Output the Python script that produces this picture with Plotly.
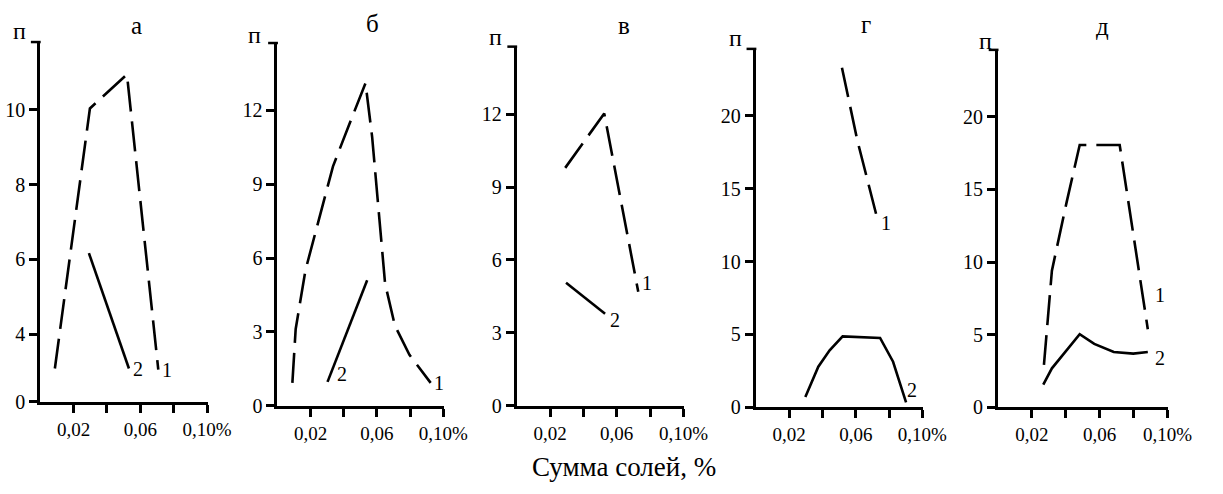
import plotly.graph_objects as go

W, H = 1223, 494
FONT = "Liberation Serif, Times New Roman, DejaVu Serif, serif"

# ---------------- data ----------------
panel_titles = ["а", "б", "в", "г", "д"]
y_label = "п"
x_title = "Сумма солей, %"

x_tickvals = [0.02, 0.04, 0.06, 0.08, 0.10]
x_ticktext = ["0,02", "", "0,06", "", "0,10%"]

# panel а (broken y axis: bottom tick labelled 0)
a_x1 = [0.0088, 0.0298, 0.052, 0.0708]
a_y1 = [3.09, 10.03, 10.94, 3.06]
a_x2 = [0.0292, 0.0532]
a_y2 = [6.17, 3.09]
a_ytickvals = [2.2, 4, 6, 8, 10]
a_yticktext = ["0", "4", "6", "8", "10"]

# panel б
b_x1 = [0.0090, 0.0110, 0.0169, 0.0247, 0.0335, 0.0434, 0.0531, 0.0571,
        0.0610, 0.0649, 0.0708, 0.0796, 0.0924]
b_y1 = [0.93, 3.12, 5.51, 7.47, 9.73, 11.45, 13.11, 10.93,
        7.88, 4.97, 3.26, 2.07, 0.93]
b_x2 = [0.0302, 0.0541]
b_y2 = [0.97, 5.10]
b_ytickvals = [0, 3, 6, 9, 12]
b_yticktext = ["0", "3", "6", "9", "12"]

# panel в
v_x1 = [0.0291, 0.0525, 0.0729]
v_y1 = [9.79, 12.03, 4.69]
v_x2 = [0.0296, 0.0530]
v_y2 = [5.06, 3.79]
v_ytickvals = [0, 3, 6, 9, 12]
v_yticktext = ["0", "3", "6", "9", "12"]

# panel г
g_x1 = [0.0517, 0.0609, 0.0736]
g_y1 = [23.28, 18.32, 12.63]
g_x2 = [0.0297, 0.0375, 0.0443, 0.0521, 0.0746, 0.0824, 0.0902]
g_y2 = [0.72, 2.79, 3.91, 4.87, 4.76, 3.13, 0.34]
g_ytickvals = [0, 5, 10, 15, 20]
g_yticktext = ["0", "5", "10", "15", "20"]

# panel д
d_x1 = [0.0271, 0.0318, 0.0405, 0.0482, 0.0718, 0.0798, 0.0884]
d_y1 = [2.92, 9.41, 14.12, 18.05, 18.05, 11.88, 5.38]
d_x2 = [0.0267, 0.0318, 0.0482, 0.0568, 0.0683, 0.0798, 0.0884]
d_y2 = [1.57, 2.69, 5.04, 4.37, 3.81, 3.70, 3.81]
d_ytickvals = [0, 5, 10, 15, 20]
d_yticktext = ["0", "5", "10", "15", "20"]

# ---------------- layout geometry (pixels) ----------------
geom = [
    (41, 212, 411, 42),
    (283, 453, 415, 43),
    (527, 698, 415, 46.7),
    (771, 941.7, 416.7, 49),
    (1018, 1191.7, 416.7, 50),
]
yranges = [(2.2, 11.83), (0, 14.78), (0, 14.82), (0, 24.64), (0, 24.66)]
title_pos = [(139, 26), (380, 24), (637, 26), (883, 25), (1125, 27)]
ylab_pos = [(20, 32), (260, 36), (505, 38), (750, 39), (1005, 42)]

series = [
    (a_x1, a_y1, a_x2, a_y2, a_ytickvals, a_yticktext),
    (b_x1, b_y1, b_x2, b_y2, b_ytickvals, b_yticktext),
    (v_x1, v_y1, v_x2, v_y2, v_ytickvals, v_yticktext),
    (g_x1, g_y1, g_x2, g_y2, g_ytickvals, g_yticktext),
    (d_x1, d_y1, d_x2, d_y2, d_ytickvals, d_yticktext),
]
label_specs = [
    [(1, -1, 9, 0), (2, -1, 9, 0)],
    [(1, -1, 8, 0), (2, 0, 14, 8)],
    [(1, -1, 9, 9), (2, -1, 10, -6)],
    [(1, -1, 8, 0), (2, -1, 6, 12)],
    [(1, -1, 12, 34), (2, -1, 12, -6)],
]

fig = go.Figure()
annotations = []
shapes = []
layout = {}

for i, (x1, y1, x2, y2, ytv, ytt) in enumerate(series):
    n = "" if i == 0 else str(i + 1)
    xa, ya = "x" + n, "y" + n
    fig.add_trace(go.Scatter(x=x1, y=y1, mode="lines", xaxis=xa, yaxis=ya,
                             line=dict(color="black", width=2.6, dash="30px,10px"),
                             showlegend=False, hoverinfo="skip"))
    fig.add_trace(go.Scatter(x=x2, y=y2, mode="lines", xaxis=xa, yaxis=ya,
                             line=dict(color="black", width=2.6),
                             showlegend=False, hoverinfo="skip"))
    px0, px1, pyb, pyt = geom[i]
    r0, r1 = yranges[i]
    layout["xaxis" + n] = dict(
        domain=[px0 / W, px1 / W], range=[0, 0.1005], anchor=ya,
        showline=True, linewidth=3, linecolor="black",
        ticks="outside", ticklen=8, tickwidth=2.5, tickcolor="black",
        tickvals=x_tickvals, ticktext=x_ticktext, showgrid=False, zeroline=False,
        tickfont=dict(family=FONT, size=19, color="black"), fixedrange=True)
    layout["yaxis" + n] = dict(
        domain=[(H - pyb) / H, (H - pyt) / H], range=[r0, r1], anchor=xa,
        showline=True, linewidth=3, linecolor="black",
        ticks="outside", ticklen=8, tickwidth=2.5, tickcolor="black",
        tickvals=list(ytv), ticktext=list(ytt),
        showgrid=False, zeroline=False,
        tickfont=dict(family=FONT, size=20, color="black"), fixedrange=True)
    # small tick at the top end of the y axis (paper-referenced, not clipped)
    shapes.append(dict(type="line", xref="paper", yref="paper",
                       x0=(px0 - 9.5) / W, x1=(px0 + 0.5) / W,
                       y0=(H - pyt - 1) / H, y1=(H - pyt - 1) / H,
                       line=dict(color="black", width=2.5)))
    tx, ty = title_pos[i]
    annotations.append(dict(x=tx / W, y=(H - ty) / H, xref="paper", yref="paper",
                            text=panel_titles[i], showarrow=False,
                            font=dict(family=FONT, size=25, color="black"),
                            xanchor="center", yanchor="middle"))
    lx, ly = ylab_pos[i]
    annotations.append(dict(x=lx / W, y=(H - ly) / H, xref="paper", yref="paper",
                            text=y_label, showarrow=False,
                            font=dict(family=FONT, size=24, color="black"),
                            xanchor="center", yanchor="middle"))
    for (s, k, dx, dy) in label_specs[i]:
        xs, ys = (x1, y1) if s == 1 else (x2, y2)
        annotations.append(dict(x=xs[k], y=ys[k], xref=xa, yref=ya,
                                text=str(s), showarrow=False,
                                font=dict(family=FONT, size=20, color="black"),
                                xanchor="center", yanchor="middle",
                                xshift=dx, yshift=dy))

annotations.append(dict(x=637 / W, y=(H - 478) / H, xref="paper", yref="paper",
                        text=x_title, showarrow=False,
                        font=dict(family=FONT, size=27, color="black"),
                        xanchor="center", yanchor="middle"))

fig.update_layout(width=W, height=H, margin=dict(l=0, r=0, t=0, b=0),
                  paper_bgcolor="white", plot_bgcolor="white",
                  font=dict(family=FONT, color="black"),
                  annotations=annotations, shapes=shapes, **layout)

fig.write_html("out.html", config={"displayModeBar": False})
